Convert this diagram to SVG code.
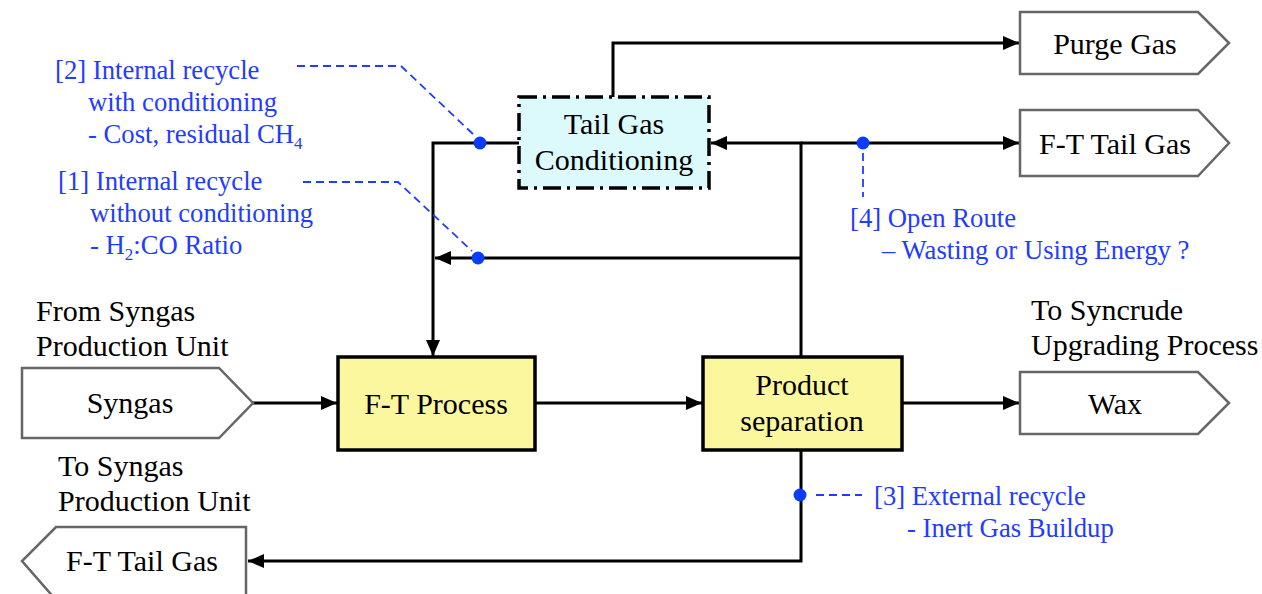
<svg xmlns="http://www.w3.org/2000/svg" width="1262" height="594" viewBox="0 0 1262 594">
<defs>
<style>
text{font-family:'Liberation Serif','Times New Roman','DejaVu Serif',serif;}
.lbl{font-size:30px;fill:#000;}
.note{font-size:26.7px;fill:#1f3cff;}
.c{text-anchor:middle;}
.port{fill:#fff;stroke:#666;stroke-width:2.5;}
.proc{fill:#fbf79f;stroke:#000;stroke-width:3.5;}
.cond{fill:#dcf9fc;stroke:#000;stroke-width:3.5;stroke-dasharray:18 6 3 6;}
.flow{fill:none;stroke:#000;stroke-width:3;}
.ann{fill:none;stroke:#1f3cff;stroke-width:1.8;stroke-dasharray:8 5;}
.dot{fill:#0a3cff;}
</style>
<marker id="ah" markerUnits="userSpaceOnUse" markerWidth="18" markerHeight="16" refX="16" refY="7" orient="auto">
<path d="M0,0 L16,7 L0,14 z" fill="#000"/>
</marker>
</defs>
<rect width="1262" height="594" fill="#fff"/>

<g id="connectors">
<path class="flow" d="M253,403 H337" marker-end="url(#ah)"/>
<path class="flow" d="M535,403 H702" marker-end="url(#ah)"/>
<path class="flow" d="M902,403 H1019" marker-end="url(#ah)"/>
<path class="flow" d="M801,357 V143 H711" marker-end="url(#ah)"/>
<path class="flow" d="M801,143 H1019" marker-end="url(#ah)"/>
<path class="flow" d="M801,258 H435" marker-end="url(#ah)"/>
<path class="flow" d="M519,143 H433 V356" marker-end="url(#ah)"/>
<path class="flow" d="M613,97 V43 H1019" marker-end="url(#ah)"/>
<path class="flow" d="M801,450 V561 H248" marker-end="url(#ah)"/>
</g>

<g id="annotations">
<path class="ann" d="M297,66 H401 L474,135"/>
<path class="ann" d="M303,182 H398 L472,251"/>
<path class="ann" d="M863,153 V197"/>
<path class="ann" d="M816,495 H862"/>
<circle class="dot" cx="480" cy="143" r="6.5"/>
<circle class="dot" cx="478" cy="258" r="6.5"/>
<circle class="dot" cx="863" cy="143" r="6.5"/>
<circle class="dot" cx="800" cy="495" r="6.5"/>
<text class="note" x="55" y="79">[2] Internal recycle</text>
<text class="note" x="88" y="111">with conditioning</text>
<text class="note" x="88" y="143">- Cost, residual CH<tspan font-size="17" dy="6">4</tspan></text>
<text class="note" x="58" y="190">[1] Internal recycle</text>
<text class="note" x="90" y="222">without conditioning</text>
<text class="note" x="90" y="254">- H<tspan font-size="17" dy="6">2</tspan><tspan dy="-6">:CO Ratio</tspan></text>
<text class="note" x="850" y="227">[4] Open Route</text>
<text class="note" x="882" y="259">– Wasting or Using Energy ?</text>
<text class="note" x="874" y="505">[3] External recycle</text>
<text class="note" x="907" y="537">- Inert Gas Buildup</text>
</g>

<g id="syngas">
<text class="lbl" x="36" y="321">From Syngas</text>
<text class="lbl" x="36" y="356">Production Unit</text>
<path class="port" d="M22,368 H219 L253,403 L219,438 H22 Z"/>
<text class="lbl c" x="130" y="413">Syngas</text>
</g>

<g id="ft-process">
<rect class="proc" x="338" y="357" width="197" height="93"/>
<text class="lbl c" x="436" y="414">F-T Process</text>
</g>

<g id="product-separation">
<rect class="proc" x="703" y="357" width="199" height="93"/>
<text class="lbl c" x="802" y="395">Product</text>
<text class="lbl c" x="802" y="431">separation</text>
</g>

<g id="tail-gas-conditioning">
<rect class="cond" x="519" y="97" width="190" height="91"/>
<text class="lbl c" x="614" y="134">Tail Gas</text>
<text class="lbl c" x="614" y="170">Conditioning</text>
</g>

<g id="purge-gas">
<path class="port" d="M1020,12 H1198 L1229,43 L1198,74 H1020 Z"/>
<text class="lbl c" x="1115" y="54">Purge Gas</text>
</g>

<g id="ft-tail-gas-right">
<path class="port" d="M1020,110 H1198 L1229,143 L1198,176 H1020 Z"/>
<text class="lbl c" x="1115" y="154">F-T Tail Gas</text>
</g>

<g id="wax">
<text class="lbl" x="1031" y="320">To Syncrude</text>
<text class="lbl" x="1031" y="355">Upgrading Process</text>
<path class="port" d="M1020,372 H1198 L1229,403 L1198,434 H1020 Z"/>
<text class="lbl c" x="1115" y="414">Wax</text>
</g>

<g id="ft-tail-gas-left">
<text class="lbl" x="58" y="476">To Syngas</text>
<text class="lbl" x="58" y="511">Production Unit</text>
<path class="port" d="M246,527 V600 H56 L22,561 L56,527 Z"/>
<text class="lbl c" x="142" y="571">F-T Tail Gas</text>
</g>
</svg>
